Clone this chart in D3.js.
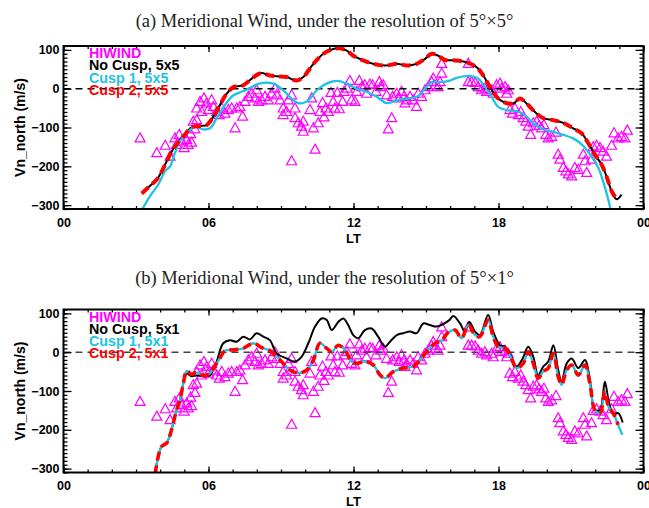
<!DOCTYPE html>
<html>
<head>
<meta charset="utf-8">
<script src="https://cdn.jsdelivr.net/npm/d3@7"></script>
<style>
  body { margin: 0; background: #fff; }
</style>
</head>
<body>
<div id="chart"></div>
<script>
// ---- data: [LT hour, Vn_north m/s] ----
var ltTicks = [0, 6, 12, 18, 24];
var vnTicks = [-300, -200, -100, 0, 100];

// HIWIND observations (same in both panels)
var hiwind = [
  [3.17,-128],[3.86,-166],[4.21,-147],[4.41,-175],[4.61,-128],[4.68,-145],[4.79,-119],[4.89,-136],
  [4.99,-153],[5.10,-132],[5.16,-145],[5.26,-117],[5.30,-139],[5.37,-85],[5.44,-105],[5.51,-81],
  [5.51,-51],[5.65,-34],[5.72,-60],[5.81,-25],[5.92,-38],[5.99,-55],[6.13,-30],[6.20,-47],
  [6.34,-60],[6.45,-68],[6.55,-51],[6.68,-64],[6.82,-55],[6.96,-51],[7.10,-102],[7.17,-51],
  [7.30,-47],[7.41,-72],[7.51,-34],[7.65,-21],[7.79,-13],[7.92,-25],[7.99,-4],
  [8.06,-34],[8.20,-30],[8.34,-21],[8.47,-30],[8.61,-13],[8.75,0],[8.82,-17],[8.96,-30],
  [9.09,-51],[9.09,-68],[9.23,-60],[9.30,-30],[9.44,-17],[9.44,-187],[9.58,-51],[9.58,-76],
  [9.71,-89],[9.85,-98],[9.92,-111],[9.92,-85],[10.20,-55],[10.27,-25],[10.34,-102],[10.41,-157],
  [10.54,-89],[10.61,-60],[10.72,-37],[10.78,-74],[10.86,-51],[10.96,-60],[11.07,-11],[11.16,-34],
  [11.23,-51],[11.33,-11],[11.41,-53],[11.55,-34],[11.61,-8],[11.74,0],[11.85,20],[11.92,-30],
  [12.06,-34],[12.13,-8],[12.24,20],[12.34,4],[12.47,9],[12.54,-13],[12.68,11],[12.79,9],
  [12.93,-8],[13.07,17],[13.12,4],[13.23,9],[13.37,-17],[13.44,-105],[13.58,-76],[13.62,-21],
  [13.79,-13],[13.89,-25],[13.99,-8],[14.09,-21],[14.13,-38],[14.20,-30],[14.34,-21],[14.47,-30],
  [14.61,-47],[14.68,-13],[14.82,-21],[14.96,-4],[15.09,4],[15.23,17],[15.30,26],[15.37,9],
  [15.50,4],[15.58,17],[15.65,39],[15.65,64],
  [16.75,64],[16.75,17],[16.89,17],[17.03,15],[17.16,4],[17.30,-4],[17.44,0],[17.51,-8],
  [17.72,-4],[17.78,-13],[17.92,9],[18.06,13],[18.13,0],[18.27,4],[18.40,-4],[18.34,-13],
  [18.47,-55],[18.58,-64],[18.68,-51],[18.82,-68],[18.92,-60],[19.02,-76],[19.13,-85],[19.23,-98],
  [19.33,-119],[19.44,-89],[19.58,-85],[19.68,-96],[19.78,-102],[19.88,-94],[19.96,-119],[20.06,-128],
  [20.20,-124],[20.38,-113],[20.47,-170],[20.54,-183],[20.68,-204],[20.79,-213],[20.89,-221],[21.03,-226],
  [21.16,-204],[21.30,-209],[21.51,-170],[21.65,-217],[21.58,-187],[21.85,-183],[21.92,-151],[22.06,-147],
  [22.20,-153],[22.33,-162],[22.47,-175],[22.68,-147],[22.78,-115],[22.95,-128],[23.09,-124],[23.23,-128],
  [23.33,-108]
];

// panel (a): 5x5 resolution
var noCusp5x5 = [
  [3.24,-270],[3.55,-252],[3.86,-234],[4.05,-215],[4.27,-187],[4.45,-165],[4.61,-149],[4.96,-123],
  [5.30,-100],[5.65,-96],[5.92,-94],[6.20,-72],[6.47,-42],[6.75,-13],[7.03,4],[7.44,9],[7.79,26],
  [8.15,40],[8.54,34],[8.82,32],[9.23,30],[9.65,21],[9.92,30],[10.34,64],[10.75,90],[11.10,101],
  [11.40,104],[11.72,98],[11.99,85],[12.40,73],[12.96,62],[13.37,60],[13.79,64],[14.20,60],
  [14.61,64],[14.96,77],[15.23,90],[15.50,85],[15.78,74],[16.13,73],[16.68,68],[17.10,55],
  [17.37,34],[17.65,4],[17.92,-21],[18.20,-34],[18.61,-38],[18.89,-25],[19.16,-38],[19.51,-60],
  [19.85,-76],[20.26,-81],[20.68,-88],[21.09,-102],[21.44,-115],[21.71,-140],[21.99,-170],
  [22.27,-196],[22.47,-226],[22.68,-264],[22.89,-285],[23.09,-273]
];
var cusp1_5x5 = [
  [3.20,-318],[3.58,-277],[3.92,-247],[4.20,-213],[4.41,-200],[4.61,-166],[4.82,-136],[5.10,-115],
  [5.44,-98],[5.78,-105],[6.06,-102],[6.34,-76],[6.68,-42],[7.03,-17],[7.37,-8],[7.72,2],[8.13,14],
  [8.68,13],[9.09,-4],[9.51,-30],[9.78,-38],[10.13,-30],[10.48,-4],[10.89,13],[11.30,20],[11.72,13],
  [12.13,0],[12.54,-8],[12.96,-21],[13.37,-37],[13.79,-30],[14.20,-25],[14.61,-21],[14.96,0],
  [15.23,17],[15.58,17],[15.99,21],[16.27,28],[16.82,33],[17.16,26],[17.44,4],[17.72,-21],
  [17.99,-47],[18.34,-55],[18.75,-58],[19.09,-68],[19.44,-89],[19.85,-105],[20.26,-111],[20.68,-119],
  [21.09,-128],[21.50,-147],[21.85,-175],[22.13,-204],[22.33,-239],[22.54,-285],[22.66,-318]
];
var cusp2_5x5 = noCusp5x5.slice(0, -1);

// panel (b): 5x1 resolution
var noCusp5x1 = [
  [3.79,-315],[3.92,-269],[4.06,-243],[4.27,-234],[4.41,-213],[4.54,-183],[4.68,-149],[4.82,-123],
  [4.96,-80],[5.10,-55],[5.30,-62],[5.51,-60],[5.78,-62],[6.06,-60],[6.20,-45],[6.34,-24],[6.61,23],
  [6.89,31],[7.17,27],[7.44,40],[7.72,33],[7.99,49],[8.27,40],[8.54,31],[8.82,-3],[9.23,-16],
  [9.58,-24],[9.85,-12],[10.13,23],[10.41,66],[10.68,87],[10.89,83],[11.10,57],[11.37,78],[11.58,87],
  [11.78,70],[11.99,44],[12.20,36],[12.47,57],[12.75,61],[13.02,40],[13.30,14],[13.51,27],[13.79,44],
  [14.06,49],[14.34,53],[14.61,49],[14.89,74],[15.16,70],[15.44,66],[15.70,72],[15.95,82],[16.13,93],
  [16.41,74],[16.61,53],[16.79,78],[17.03,53],[17.23,44],[17.57,96],[17.78,53],[18.06,18],[18.27,14],
  [18.47,-3],[18.75,-37],[19.00,-16],[19.23,14],[19.44,-12],[19.64,-59],[19.85,-37],[20.06,-24],
  [20.27,18],[20.47,-46],[20.61,-76],[20.82,-29],[21.03,-16],[21.30,-41],[21.58,-20],[21.78,-71],
  [21.99,-149],[22.20,-149],[22.40,-76],[22.55,-123],[22.75,-161],[22.95,-157],[23.14,-181]
];
var cusp1_5x1 = [
  [3.79,-315],[3.92,-269],[4.06,-243],[4.27,-234],[4.41,-213],[4.54,-183],[4.68,-149],[4.82,-123],
  [4.96,-80],[5.10,-48],[5.30,-57],[5.51,-52],[5.78,-60],[6.06,-55],[6.27,-35],[6.47,-16],[6.68,4],
  [7.03,6],[7.44,10],[7.85,23],[8.20,12],[8.54,4],[8.96,-20],[9.37,-46],[9.71,-54],[10.06,-46],
  [10.34,-20],[10.61,23],[10.89,10],[11.10,1],[11.37,18],[11.65,6],[11.92,-24],[12.13,-29],[12.47,-24],
  [12.82,-33],[13.10,-59],[13.30,-67],[13.65,-50],[14.06,-41],[14.47,-37],[14.75,-20],[15.02,1],
  [15.37,23],[15.65,30],[15.90,50],[16.20,57],[16.47,36],[16.75,70],[17.03,44],[17.23,40],[17.57,83],
  [17.78,40],[17.99,14],[18.27,10],[18.47,-7],[18.75,-41],[19.02,-29],[19.23,1],[19.44,-29],
  [19.64,-67],[19.85,-50],[20.06,-41],[20.27,-3],[20.47,-63],[20.61,-84],[20.82,-46],[21.03,-33],
  [21.30,-59],[21.58,-33],[21.78,-80],[21.99,-149],[22.20,-157],[22.40,-101],[22.55,-140],[22.75,-157],
  [22.95,-187],[23.12,-213]
];
var cusp2_5x1 = cusp1_5x1.slice(0, -1);

// ---- drawing ----
var W = 649, H = 508;
var magenta = "#ff00ff", cyan = "#1cc4e4";

var panels = [
  { top: 46, bottom: 209, titleY: 27, zero: "#000",
    title: "(a) Meridional Wind, under the resolution of 5\u00b0\u00d75\u00b0",
    series: [
      { name: "No Cusp, 5x5", data: noCusp5x5, color: "#000", width: 2 },
      { name: "Cusp 1, 5x5", data: cusp1_5x5, color: cyan, width: 2.3 },
      { name: "Cusp 2, 5x5", data: cusp2_5x5, color: "#ff0000", width: 4, dash: "9,5" }
    ] },
  { top: 309.5, bottom: 472.5, titleY: 284, zero: "#444",
    title: "(b) Meridional Wind, under the resolution of 5\u00b0\u00d71\u00b0",
    series: [
      { name: "No Cusp, 5x1", data: noCusp5x1, color: "#000", width: 2 },
      { name: "Cusp 1, 5x1", data: cusp1_5x1, color: cyan, width: 2.3 },
      { name: "Cusp 2, 5x1", data: cusp2_5x1, color: "#ff0000", width: 3.6, dash: "9,5" }
    ] }
];

var x = d3.scaleLinear().domain([0, 24]).range([63.5, 643.5]);

var svg = d3.select("#chart").append("svg")
  .attr("width", W).attr("height", H)
  .style("font-family", "'Liberation Sans', Arial, sans-serif");

panels.forEach(function (p, i) {
  var y = d3.scaleLinear().domain([-310, 110]).range([p.bottom, p.top]);
  var g = svg.append("g");

  // title
  g.append("text")
    .attr("x", W / 2).attr("y", p.titleY)
    .attr("text-anchor", "middle")
    .style("font-family", "'Liberation Serif', 'DejaVu Serif', serif")
    .style("font-size", "18.5px")
    .attr("fill", "#222")
    .text(p.title);

  var clipId = "clip" + i;
  g.append("clipPath").attr("id", clipId).append("rect")
    .attr("x", x(0)).attr("y", p.top)
    .attr("width", x(24) - x(0)).attr("height", p.bottom - p.top);

  var plot = g.append("g").attr("clip-path", "url(#" + clipId + ")");

  // HIWIND triangles
  plot.selectAll("path.tri").data(hiwind).join("path")
    .attr("class", "tri")
    .attr("d", "M0,-5.5L5,3.5L-5,3.5Z")
    .attr("transform", function (d) { return "translate(" + x(d[0]) + "," + y(d[1]) + ")"; })
    .attr("fill", "none")
    .attr("stroke", magenta)
    .attr("stroke-width", 1.2);

  // zero line
  plot.append("line")
    .attr("x1", x(0)).attr("x2", x(24))
    .attr("y1", y(0)).attr("y2", y(0))
    .attr("stroke", p.zero).attr("stroke-width", 1.4)
    .attr("stroke-dasharray", "7,5");

  var line = d3.line()
    .x(function (d) { return x(d[0]); })
    .y(function (d) { return y(d[1]); })
    .curve(d3.curveCatmullRom.alpha(0.5));

  p.series.forEach(function (s) {
    plot.append("path").datum(s.data)
      .attr("d", line)
      .attr("fill", "none")
      .attr("stroke", s.color)
      .attr("stroke-width", s.width)
      .attr("stroke-dasharray", s.dash || null);
  });

  // axes (IDL style: ticks pointing inward)
  function style(ax) {
    ax.select(".domain").remove();
    ax.selectAll("line").attr("stroke", "#000").attr("stroke-width", 1.3);
    ax.selectAll("text").attr("fill", "#000")
      .style("font-size", "12.5px").style("font-weight", "bold")
      .style("font-family", "'Liberation Sans', Arial, sans-serif");
  }
  var hours = d3.range(0, 25, 1);
  var vnMinor = d3.range(-310, 111, 10);

  g.append("g").attr("transform", "translate(0," + p.bottom + ")")
    .call(d3.axisBottom(x).tickValues(hours).tickSize(-3).tickFormat("")).call(style);
  g.append("g").attr("transform", "translate(0," + p.bottom + ")")
    .call(d3.axisBottom(x).tickValues(ltTicks).tickSize(-6).tickSizeOuter(0).tickPadding(9)
      .tickFormat(function (d) { return d3.format("02d")(d % 24); })).call(style);
  g.append("g").attr("transform", "translate(0," + p.top + ")")
    .call(d3.axisTop(x).tickValues(hours).tickSize(-3).tickFormat("")).call(style);
  g.append("g").attr("transform", "translate(0," + p.top + ")")
    .call(d3.axisTop(x).tickValues(ltTicks).tickSize(-6).tickFormat("")).call(style);

  g.append("g").attr("transform", "translate(" + x(0) + ",0)")
    .call(d3.axisLeft(y).tickValues(vnMinor).tickSize(-4).tickFormat("")).call(style);
  g.append("g").attr("transform", "translate(" + x(0) + ",0)")
    .call(d3.axisLeft(y).tickValues(vnTicks).tickSize(-8).tickSizeOuter(0).tickPadding(4)).call(style);
  g.append("g").attr("transform", "translate(" + x(24) + ",0)")
    .call(d3.axisRight(y).tickValues(vnMinor).tickSize(-4).tickFormat("")).call(style);
  g.append("g").attr("transform", "translate(" + x(24) + ",0)")
    .call(d3.axisRight(y).tickValues(vnTicks).tickSize(-8).tickFormat("")).call(style);

  // frame
  g.append("rect")
    .attr("x", x(0)).attr("y", p.top)
    .attr("width", x(24) - x(0)).attr("height", p.bottom - p.top)
    .attr("fill", "none").attr("stroke", "#000").attr("stroke-width", 2);

  // axis titles
  g.append("text")
    .attr("x", (x(0) + x(24)) / 2).attr("y", p.bottom + 33.5)
    .attr("text-anchor", "middle")
    .style("font-size", "13px").style("font-weight", "bold")
    .text("LT");
  g.append("text")
    .attr("transform", "translate(25," + ((p.top + p.bottom) / 2) + ") rotate(-90)")
    .attr("text-anchor", "middle")
    .style("font-size", "14px").style("font-weight", "bold")
    .text("Vn_north (m/s)");

  // legend
  var legend = [{ name: "HIWIND", color: magenta }].concat(p.series);
  g.selectAll("text.leg").data(legend).join("text")
    .attr("class", "leg")
    .attr("x", 89)
    .attr("y", function (d, k) { return p.top + 12 + k * 12.3; })
    .attr("fill", function (d) { return d.color; })
    .style("font-size", "14.3px").style("font-weight", "bold")
    .text(function (d) { return d.name; });
});
</script>
</body>
</html>
